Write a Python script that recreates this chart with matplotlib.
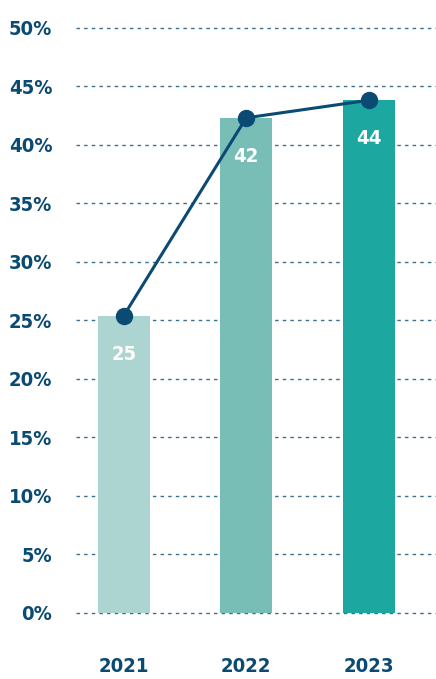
import matplotlib.pyplot as plt
from matplotlib import font_manager

years = ['2021', '2022', '2023']
values = [25.4, 42.3, 43.8]
labels = ['25', '42', '44']
bar_colors = ['#acd5d2', '#78bdb6', '#1ca7a0']
yticks = [0, 5, 10, 15, 20, 25, 30, 35, 40, 45, 50]

navy = '#0b4a72'
fp = font_manager.FontProperties(family='DejaVu Sans', stretch='condensed', weight='bold', size=14.5)

fig = plt.figure(figsize=(4.36, 6.79), dpi=100)
ax = fig.add_axes([76 / 436, 66 / 679, 360 / 436, 585.3 / 679])

x = list(range(len(years)))
ax.bar(x, values, width=0.425, color=bar_colors, zorder=2)
ax.plot(x, values, color=navy, lw=2.2, marker='o', markersize=11.5, zorder=3)

# value labels inside the bars
for xi, v, lab in zip(x, values, labels):
    ax.text(xi, v - 3.3, lab, ha='center', va='center', color='white',
            fontproperties=fp, zorder=4)

ax.set_xlim(-0.39, 2.55)
ax.set_ylim(0, 50)
ax.set_yticks(yticks)
ax.set_yticklabels([f'{t}%' for t in yticks])
ax.tick_params(axis='y', length=0, pad=17, labelcolor=navy)
for t in ax.get_yticklabels():
    t.set_fontproperties(fp)
ax.set_xticks([])
for y in yticks:
    ax.axhline(y, color='#3d6e8e', lw=1, ls=(0, (2.5, 3)), zorder=1, clip_on=False)

# year labels below the axis
for xi, yr in zip(x, years):
    ax.text(xi, -4.6, yr, ha='center', va='center', color=navy,
            fontproperties=fp, clip_on=False)

for s in ax.spines.values():
    s.set_visible(False)

fig.savefig('out.png', dpi=100)
